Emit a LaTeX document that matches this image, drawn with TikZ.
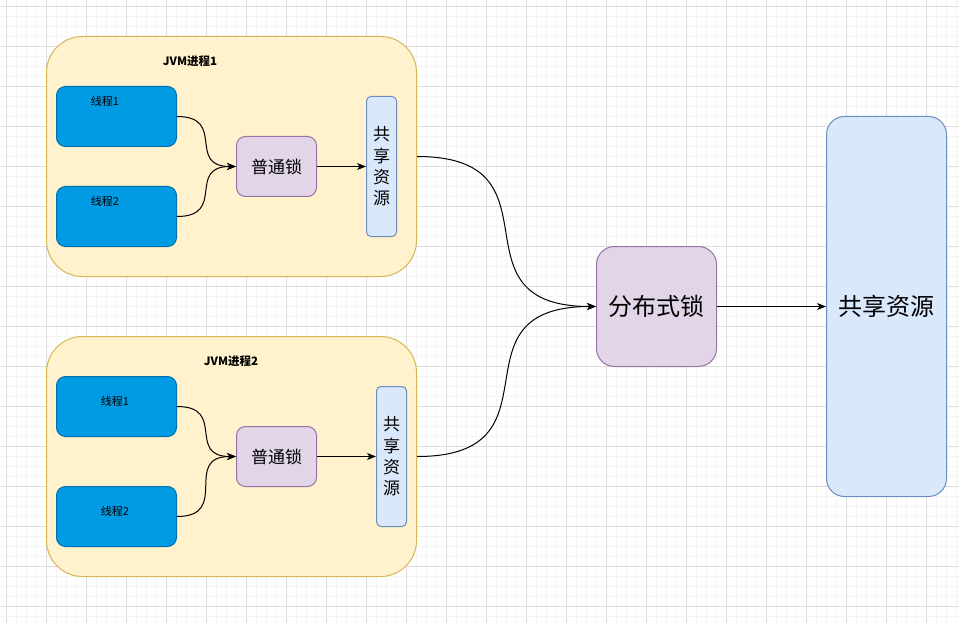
\documentclass[tikz,border=0pt]{standalone}
\usepackage{fontspec}
\setmainfont{Noto Sans CJK SC}
\usepackage{xcolor}
\usetikzlibrary{arrows.meta,positioning}
\definecolor{jvmfill}{RGB}{255,242,204}
\definecolor{jvmline}{RGB}{214,182,86}
\definecolor{threadfill}{RGB}{0,155,226}
\definecolor{threadline}{RGB}{0,110,175}
\definecolor{lockfill}{RGB}{225,213,231}
\definecolor{lockline}{RGB}{150,115,166}
\definecolor{resfill}{RGB}{218,232,252}
\definecolor{resline}{RGB}{108,142,191}
\definecolor{gridminor}{RGB}{244,244,244}
\definecolor{gridmajor}{RGB}{222,222,222}
\newcommand{\fsz}[2]{\fontsize{#1}{#2}\selectfont}

\begin{document}
\begin{tikzpicture}[x=1pt,y=-1pt,
    jvmbox/.style={draw=jvmline,fill=jvmfill,line width=1pt,rounded corners=36pt,
        minimum width=370pt,minimum height=240pt,inner sep=0pt},
    threadbox/.style={draw=threadline,fill=threadfill,line width=1pt,rounded corners=9pt,
        minimum width=120pt,minimum height=60pt,inner sep=0pt},
    lockbox/.style={draw=lockline,fill=lockfill,line width=1pt,rounded corners=9pt,
        minimum width=80pt,minimum height=60pt,inner sep=0pt,font=\fsz{17}{21}},
    resbox/.style={draw=resline,fill=resfill,line width=1pt,rounded corners=4.5pt,
        minimum width=30pt,minimum height=140pt,inner sep=0pt,align=center,font=\fsz{17}{21.3}},
    bigbox/.style={line width=1pt,rounded corners=18pt,minimum width=120pt,
        inner sep=0pt,font=\fsz{24}{28}},
    lbl/.style={font=\fsz{11}{13},inner sep=0pt},
    jvmtitle/.style={font=\bfseries\fsz{11.5}{14},inner sep=0pt},
    link/.style={line width=1pt,-{Stealth[length=9pt,width=7pt,inset=2.5pt]}},
    curvy/.style={link,out=0,in=180,looseness=1.65}]

\useasboundingbox (0,0) rectangle (959,623);
\fill[white] (0,0) rectangle (959,623);
% grid
\foreach \k in {0,...,95}
    \draw[gridminor,line width=1pt] (6.5+10*\k,0) -- (6.5+10*\k,623);
\foreach \k in {0,...,61}
    \draw[gridminor,line width=1pt] (0,6.5+10*\k) -- (959,6.5+10*\k);
\foreach \k in {0,...,23}
    \draw[gridmajor,line width=1pt] (6.5+40*\k,0) -- (6.5+40*\k,623);
\foreach \k in {0,...,15}
    \draw[gridmajor,line width=1pt] (0,6.5+40*\k) -- (959,6.5+40*\k);

% JVM 1
\node[jvmbox] (jvm1) at (231.5,156.5) {};
\node[jvmtitle] (jvm1title) at (190,61) {JVM进程1};
\node[threadbox] (t11) at (116.5,116.5) {};
\node[lbl] (t11lbl) at (105,101) {线程1};
\node[threadbox] (t12) at (116.5,216.5) {};
\node[lbl] (t12lbl) at (105,201) {线程2};
\node[lockbox] (lock1) at (276.5,166.5) {普通锁};
\node[resbox] (res1) at (381.5,166.5) {共\\享\\资\\源};

% JVM 2
\node[jvmbox] (jvm2) at (231.5,456.5) {};
\node[jvmtitle] (jvm2title) at (231,361) {JVM进程2};
\node[threadbox] (t21) at (116.5,406.5) {};
\node[lbl] (t21lbl) at (115,401.5) {线程1};
\node[threadbox] (t22) at (116.5,516.5) {};
\node[lbl] (t22lbl) at (115,511.5) {线程2};
\node[lockbox] (lock2) at (276.5,456.5) {普通锁};
\node[resbox] (res2) at (391.5,456.5) {共\\享\\资\\源};

% distributed lock and shared resource
\node[bigbox,draw=lockline,fill=lockfill,minimum height=120pt] (dlock) at (656.5,306.5) {分布式锁};
\node[bigbox,draw=resline,fill=resfill,minimum height=380pt] (bigres) at (886.5,306.5) {共享资源};

% links
\draw[curvy] (t11.east) to (lock1.west);
\draw[curvy] (t12.east) to (lock1.west);
\draw[link] (lock1) -- (res1);
\draw[curvy] (t21.east) to (lock2.west);
\draw[curvy] (t22.east) to (lock2.west);
\draw[link] (lock2) -- (res2);
\draw[curvy] (jvm1.east) to (dlock.west);
\draw[curvy] (jvm2.east) to (dlock.west);
\draw[link] (dlock) -- (bigres);
\end{tikzpicture}
\end{document}
